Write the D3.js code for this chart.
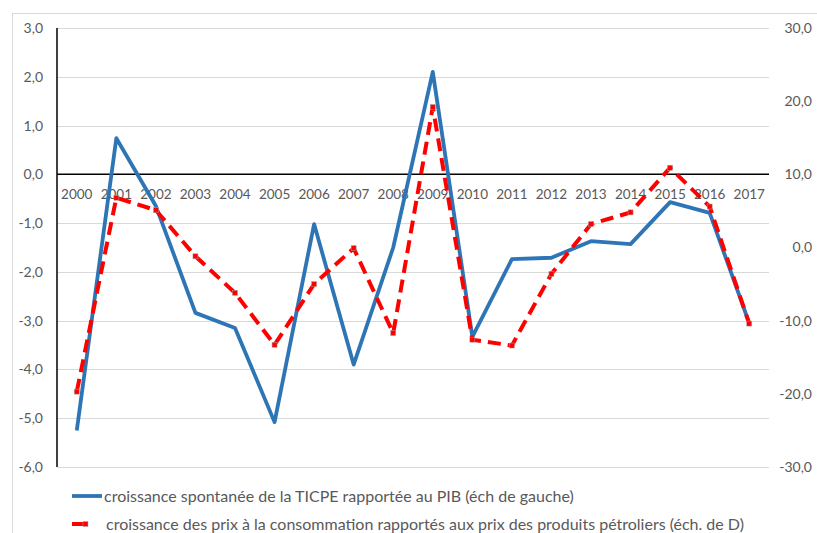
<!DOCTYPE html>
<html>
<head>
<meta charset="utf-8">
<script src="https://cdn.jsdelivr.net/npm/d3@7"></script>
<style>
  body { margin: 0; background: #fff; }
  text { font-family: Lato, "Open Sans", sans-serif; fill: #595959; }
</style>
</head>
<body>
<svg width="817" height="533"></svg>
<script>
var years = ["2000","2001","2002","2003","2004","2005","2006","2007","2008","2009",
  "2010","2011","2012","2013","2014","2015","2016","2017"];
var ticpe = [-5.25, 0.74, -0.65, -2.84, -3.15, -5.08, -1.02, -3.9, -1.5, 2.1,
  -3.33, -1.74, -1.71, -1.37, -1.43, -0.57, -0.79, -3.05];
var prix = [-19.7, 6.8, 5.1, -1.2, -6.2, -13.3, -5.0, -0.1, -11.7, 19.2,
  -12.6, -13.4, -3.6, 3.2, 4.8, 10.9, 5.6, -10.4];
var leftTicks = [3, 2, 1, 0, -1, -2, -3, -4, -5, -6];
var rightTicks = [30, 20, 10, 0, -10, -20, -30];
var legendLabels = [
  "croissance spontanée de la TICPE rapportée au PIB (éch de gauche)",
  "croissance des prix à la consommation rapportés aux prix des produits pétroliers (éch. de D)"
];

renderChart();

function renderChart(){
  var svg = d3.select('svg');
  var left = 57, right = 769, top = 28, bottom = 467;
  var fmt = function(d){ return d3.format(".1f")(d).replace(".", ",").replace("−", "-"); };

  // frame
  svg.append('rect')
     .attr('x', 12.5).attr('y', 13.5)
     .attr('width', 820).attr('height', 540)
     .attr('fill', 'none').attr('stroke', '#d9d9d9');

  var x = d3.scaleBand().domain(years).range([left, right]);
  var yL = d3.scaleLinear().domain([-6, 3]).range([bottom, top]);
  var yR = d3.scaleLinear().domain([-30, 30]).range([bottom, top]);

  // gridlines
  svg.append('g').selectAll('line')
     .data(leftTicks).enter().append('line')
     .attr('x1', left).attr('x2', right)
     .attr('y1', d => Math.round(yL(d)) + 0.5).attr('y2', d => Math.round(yL(d)) + 0.5)
     .attr('stroke', '#d9d9d9').attr('stroke-width', 1);

  // left axis labels
  var axL = svg.append('g').attr('transform', 'translate(' + (left - 14) + ',0)')
     .call(d3.axisLeft(yL).tickValues(leftTicks).tickFormat(fmt).tickSize(0).tickPadding(0));
  axL.select('.domain').remove();
  axL.selectAll('text').style('font-size', '14px').attr('fill', '#595959');

  var axR = svg.append('g').attr('transform', 'translate(812,0)')
     .call(d3.axisLeft(yR).tickValues(rightTicks).tickFormat(fmt).tickSize(0).tickPadding(0));
  axR.select('.domain').remove();
  axR.selectAll('text').style('font-size', '14px').attr('fill', '#595959');

  // left axis line and zero line
  svg.append('line')
     .attr('x1', left).attr('x2', left).attr('y1', top).attr('y2', bottom)
     .attr('stroke', '#000').attr('stroke-width', 1.5);
  svg.append('line')
     .attr('x1', left).attr('x2', right).attr('y1', yL(0)).attr('y2', yL(0))
     .attr('stroke', '#000').attr('stroke-width', 1.5);

  // category labels sit just under the zero line
  svg.append('g').selectAll('text')
     .data(years).enter().append('text')
     .attr('x', d => x(d) + x.bandwidth() / 2)
     .attr('y', yL(0) + 25)
     .attr('text-anchor', 'middle')
     .style('font-size', '13.5px')
     .text(d => d);

  var cx = (d, i) => x(years[i]) + x.bandwidth() / 2;

  var lineL = d3.line().x(cx).y(d => yL(d));
  var lineR = d3.line().x(cx).y(d => yR(d));

  svg.append('path').datum(ticpe)
     .attr('d', lineL)
     .attr('fill', 'none').attr('stroke', '#2e75b6')
     .attr('stroke-width', 3.8).attr('stroke-linejoin', 'round');

  svg.append('path').datum(prix)
     .attr('d', lineR)
     .attr('fill', 'none').attr('stroke', '#ff0000')
     .attr('stroke-width', 4).attr('stroke-dasharray', '13,7');

  svg.append('g').selectAll('rect')
     .data(prix).enter().append('rect')
     .attr('x', (d, i) => cx(d, i) - 2.5)
     .attr('y', d => yR(d) - 2.5)
     .attr('width', 5).attr('height', 5)
     .attr('fill', '#ff0000').attr('stroke', '#a6a6a6').attr('stroke-width', 0.5);

  // legend
  var lg = svg.append('g');
  lg.append('line')
     .attr('x1', 72).attr('x2', 102).attr('y1', 496).attr('y2', 496)
     .attr('stroke', '#2e75b6').attr('stroke-width', 3.8);
  lg.append('line')
     .attr('x1', 72).attr('x2', 88).attr('y1', 524).attr('y2', 524)
     .attr('stroke', '#ff0000').attr('stroke-width', 4);
  lg.append('rect')
     .attr('x', 83).attr('y', 521.5).attr('width', 5).attr('height', 5)
     .attr('fill', '#ff0000').attr('stroke', '#a6a6a6').attr('stroke-width', 0.5);
  lg.selectAll('text')
     .data(legendLabels).enter().append('text')
     .attr('x', (d, i) => i === 0 ? 104 : 106)
     .attr('y', (d, i) => 501.5 + i * 28)
     .style('font-size', '16px')
     .text(d => d);
}
</script>
</body>
</html>
